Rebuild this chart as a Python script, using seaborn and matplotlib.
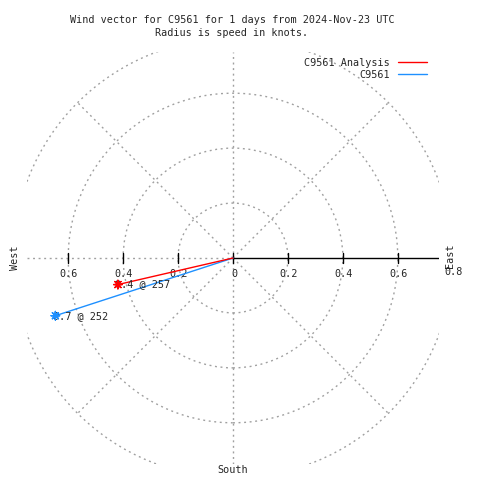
import numpy as np
import pandas as pd
import matplotlib
matplotlib.use("Agg")
import matplotlib.pyplot as plt
import seaborn as sns
from matplotlib.patches import Circle
from matplotlib.lines import Line2D

# ---- data ----
series = ["C9561 Analysis", "C9561"]
speeds = [0.43, 0.68]          # knots
directions = [257, 252]        # degrees
speed_labels = ["0.4", "0.7"]
colors = ["#ff0000", "#1e90ff"]
ring_radii = [0.2, 0.4, 0.6, 0.8]
west_ticks = [-0.6, -0.4, -0.2]
west_tick_labels = ["0.6", "0.4", "0.2"]
east_ticks = [0.0, 0.2, 0.4, 0.6, 0.8]
east_tick_labels = ["0", "0.2", "0.4", "0.6", "0.8"]
title_lines = ["Wind vector for C9561 for 1 days from 2024-Nov-23 UTC",
               "Radius is speed in knots."]
lim = 0.75

sns.set_theme(style="white")
plt.rcParams["font.family"] = ["DejaVu Sans Mono"]
FS = 7.3
GRAY = "#a0a0a0"
DASH = (1.4, 2.6)

W = 480
fig = plt.figure(figsize=(4.8, 4.8), dpi=100)
fig.patch.set_facecolor("white")

def fx(x):
    return x / W

def fy(y):
    return 1 - y / W

ax = fig.add_axes([27 / W, 16 / W, 412 / W, 412 / W])
ax.set_xlim(-lim, lim)
ax.set_ylim(-lim, lim)
ax.set_aspect("equal")
ax.axis("off")

# grid rings
for r in ring_radii:
    ax.add_patch(Circle((0, 0), r, fill=False, edgecolor=GRAY, lw=1,
                        linestyle=(0, DASH), zorder=1))
# diagonals
rmax = max(ring_radii)
for ang in [45, 135, 225, 315]:
    a = np.deg2rad(ang)
    ax.plot([0, rmax * np.cos(a)], [0, rmax * np.sin(a)], color=GRAY, lw=1,
            linestyle=(0, DASH), zorder=1)
# vertical and west horizontal dashed
ax.plot([0, 0], [-lim, lim], color=GRAY, lw=1, linestyle=(0, DASH), zorder=1)
ax.plot([-lim, 0], [0, 0], color=GRAY, lw=1, linestyle=(0, DASH), zorder=1)
# east axis solid
ax.plot([0, lim], [0, 0], color="black", lw=1, zorder=2)
# ticks
tl = 0.018
for t in west_ticks + east_ticks[:-1]:
    ax.plot([t, t], [-tl, tl], color="black", lw=1, zorder=2)
for t, lab in zip(west_ticks, west_tick_labels):
    ax.text(t, -0.06, lab, ha="center", va="center", fontsize=FS, clip_on=False)
for t, lab in zip(east_ticks, east_tick_labels):
    yy = -0.05 if t > 0.7 else -0.058
    ax.text(t + 0.004, yy, lab, ha="center", va="center", fontsize=FS, clip_on=False)

# vectors
rad = np.deg2rad(directions)
ex = np.array(speeds) * np.sin(rad)
ey = np.array(speeds) * np.cos(rad)
rows = []
for s, x, y in zip(series, ex, ey):
    rows.append({"series": s, "x": 0.0, "y": 0.0, "o": 0})
    rows.append({"series": s, "x": x, "y": y, "o": 1})
df = pd.DataFrame(rows)
pal = dict(zip(series, colors))
for s in series[::-1]:
    sub = df[df.series == s]
    sns.lineplot(data=sub, x="x", y="y", hue="series", palette=pal, sort=False,
                 estimator=None, lw=1, legend=False, ax=ax, zorder=3)
ends = df[df.o == 1]
sns.scatterplot(data=ends, x="x", y="y", hue="series", palette=pal,
                marker=(8, 2, 0), s=38, linewidth=1, legend=False, ax=ax, zorder=5)
for s, x, y, sl, d in zip(series, ex, ey, speed_labels, directions):
    ax.annotate(f"{sl} @ {d}", (x, y), xytext=(-2.0, 0), textcoords="offset points",
                ha="left", va="center", fontsize=FS, zorder=4)
ax.set_xlim(-lim, lim)
ax.set_ylim(-lim, lim)

# title
fig.text(fx(232), fy(20), title_lines[0], ha="center", va="center", fontsize=FS)
fig.text(fx(232), fy(33), title_lines[1], ha="center", va="center", fontsize=FS)

# compass labels
fig.text(fx(15), fy(258), "West", ha="center", va="center", rotation=90, fontsize=FS)
fig.text(fx(450), fy(256), "East", ha="center", va="center", rotation=90, fontsize=FS)
fig.text(fx(233), fy(470), "South", ha="center", va="center", fontsize=FS)

# legend
for i, (s, c) in enumerate(zip(series, colors)):
    y = 63 + 12 * i
    fig.text(fx(390), fy(y), s, ha="right", va="center", fontsize=FS)
    fig.add_artist(Line2D([fx(398), fx(427)], [fy(y - 1), fy(y - 1)], color=c, lw=1,
                          transform=fig.transFigure))

fig.savefig("out.png", dpi=100, facecolor="white")
